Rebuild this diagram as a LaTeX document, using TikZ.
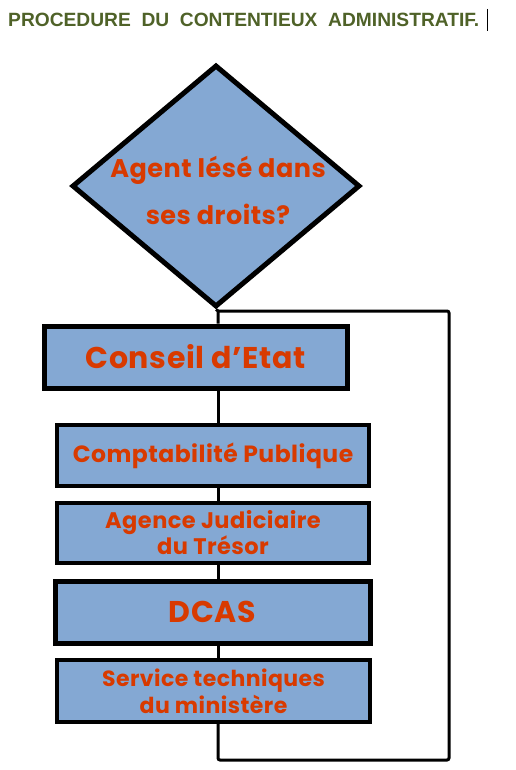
\documentclass[tikz,border=0pt]{standalone}
\usepackage{fontspec}
\setmainfont{Liberation Sans}
\newfontfamily\boxfont{Poppins}[LetterSpace=2]
\usetikzlibrary{shapes.geometric}
\definecolor{boxblue}{HTML}{84A8D3}
\definecolor{txtred}{HTML}{D83A00}
\definecolor{titlegreen}{HTML}{4F6228}
\tikzset{
  stepbox/.style={draw=black, fill=boxblue, rectangle, inner sep=0pt, line width=3.2pt},
  thickbox/.style={stepbox, line width=5pt},
  lbl/.style={text=txtred, font=\boxfont\bfseries, align=center, inner sep=0pt},
  conn/.style={draw=black, line width=3pt},
}
\begin{document}
\begin{tikzpicture}[x=1pt,y=-1pt]
\useasboundingbox (0,0) rectangle (516,770);
% title
\node[anchor=base west, inner sep=0pt, text=titlegreen, font=\bfseries\fontsize{19.2}{22}\selectfont] (title) at (8,27) {PROCEDURE\ \ DU\ \ CONTENTIEUX\ \ ADMINISTRATIF.};
\draw[line width=1.2pt] (487.5,9) -- (487.5,31);
% diamond
\node[draw=black, fill=boxblue, diamond, line width=5pt, minimum width=288pt, minimum height=242pt, inner sep=0pt] (dia) at (216,186) {};
\node[lbl, font=\boxfont\bfseries\fontsize{25.5}{47}\selectfont] (diatext) at (218,190) {Agent lésé dans\\ses droits?};
% boxes
\node[thickbox, minimum width=303pt, minimum height=62pt] (conseil) at (195.5,357) {};
\node[lbl, font=\boxfont\bfseries\fontsize{30}{30}\selectfont] at (conseil) {Conseil d’Etat};
\node[stepbox, minimum width=312pt, minimum height=61pt] (compta) at (213,455.5) {};
\node[lbl, font=\boxfont\bfseries\fontsize{23.5}{24}\selectfont] at (compta) {Comptabilité Publique};
\node[stepbox, minimum width=312pt, minimum height=60pt] (agence) at (213,533) {};
\node[lbl, font=\boxfont\bfseries\fontsize{22.5}{26}\selectfont] at (agence) {Agence Judiciaire\\du Trésor};
\node[thickbox, minimum width=315pt, minimum height=62pt] (dcas) at (212.5,612) {};
\node[lbl, font=\boxfont\bfseries\fontsize{30}{30}\selectfont] at (dcas) {DCAS};
\node[stepbox, minimum width=313pt, minimum height=62pt] (service) at (213.5,691) {};
\node[lbl, font=\boxfont\bfseries\fontsize{22}{27}\selectfont] at (service) {Service techniques\\du ministère};
% connectors
\coordinate (lt) at (218,311);
\coordinate (rb) at (449,760);
\draw[conn] (dia.south) -- (lt) -- (conseil.north -| lt);
\draw[conn] (conseil.south -| lt) -- (compta.north -| lt);
\draw[conn] (compta.south -| lt) -- (agence.north -| lt);
\draw[conn] (agence.south -| lt) -- (dcas.north -| lt);
\draw[conn] (dcas.south -| lt) -- (service.north -| lt);
\draw[conn, rounded corners=2pt] (lt) -| (rb) -| (service.south -| lt) -- (service.south -| lt);
\end{tikzpicture}
\end{document}
